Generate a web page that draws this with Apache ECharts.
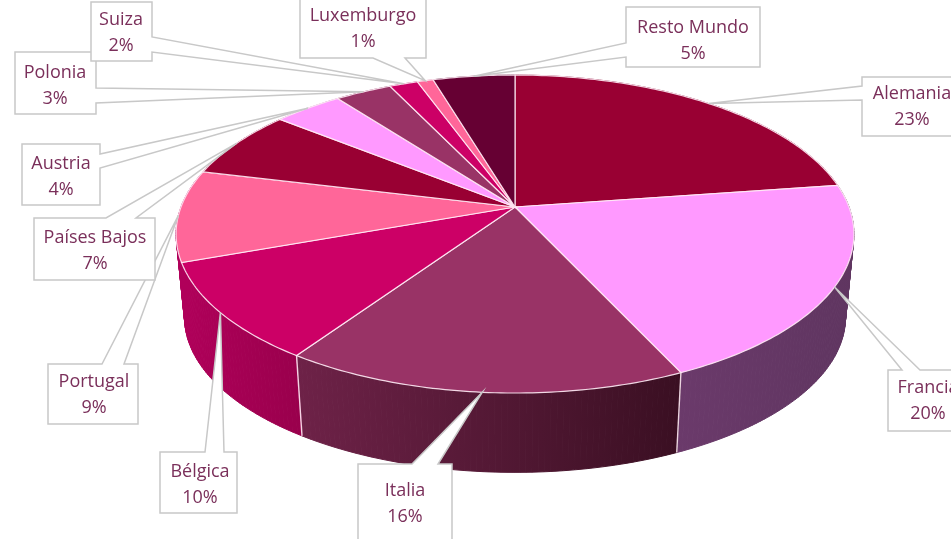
<!DOCTYPE html>
<html>
<head>
<meta charset="utf-8">
<style>html,body{margin:0;padding:0;background:#fff}#c{width:951px;height:539px}</style>
<script src="https://cdn.jsdelivr.net/npm/echarts@6/dist/echarts.min.js"></script>
</head>
<body>
<div id="c"></div>
<script>
// Data, clockwise from 12 o'clock (labels are the rounded shares)
const categories = ['Alemania','Francia','Italia','Bélgica','Portugal','Países Bajos','Austria','Polonia','Suiza','Luxemburgo','Resto Mundo'];
const values = [22.7,20.4,16.4,10.0,9.3,7.0,3.9,3.2,1.6,0.9,4.6];

// Styles
const topColors = ['#990033','#ff99ff','#993366','#cc0066','#ff6699','#990033','#ff99ff','#993366','#cc0066','#ff6699','#660033'];
const wallStops = [['#7a0028','#7a0028'],['#6b3a6b','#5f3560'],['#6e2248','#3a0f22'],['#b0005a','#99004c'],['#b0005a','#b0005a'],
                   ['#7a0028','#7a0028'],['#c07ac0','#c07ac0'],['#7a2850','#7a2850'],['#a00050','#a00050'],['#c05078','#c05078'],['#4d0026','#4d0026']];

// Layout of the callouts: box [x,y,w,h], tail side, tail base [from,to], text centre [x,y]
const boxes = [[862,77,110,59],[888,370,90,61],[358,464,94,80],[160,452,77,61],[48,364,90,60],[34,218,121,62],[22,144,78,61],[15,52,81,62],[91,2,61,59],[300,-6,126,64],[626,7,134,60]];
const sides = ['left','top','top','top','top','top','right','right','right','bottom','left'];
const tails = [[86,100],[902,920],[412,438],[205,224],[102,124],[106,136],[154,168],[88,103],[37,52],[373,405],[43,57]];
const textCentres = [[912,107],[928,401],[405,504],[200,485],[94,395],[95,251],[61,177],[55,86],[121,33],[363,29],[693,41]];

// Projection of the disc (perspective view of a tilted pie)
const apex = [515,207], A = 154.4, B = 334, C = 0.17, wallScale = 0.975, wallDrop = 84;
const total = values.reduce((a,b)=>a+b,0);
const cum = [0]; values.forEach((v,i)=>cum.push(cum[i]+v));
function proj(share, wall){
  const t = share/total*2*Math.PI, X = Math.sin(t), Y = -Math.cos(t), w = 1-C*Y;
  const s = wall ? wallScale : 1, d = wall ? wallDrop : 0;
  return [apex[0]+B*X/w*s, apex[1]+A*Y/w*s+d];
}
function arc(i, wall){
  const pts = [], n = Math.max(4, Math.ceil(values[i]*4));
  for(let k=0;k<=n;k++) pts.push(proj(cum[i]+values[i]*k/n, wall));
  return pts;
}
const edge = 'rgba(255,235,245,0.9)';
function renderWall(p){
  const i = p.dataIndex, top = arc(i,false), bot = arc(i,true);
  const xs = top.concat(bot).map(q=>q[0]), x0 = Math.min(...xs), x1 = Math.max(...xs);
  const grad = new echarts.graphic.LinearGradient(x0,0,x1,0,[{offset:0,color:wallStops[i][0]},{offset:1,color:wallStops[i][1]}],true);
  const children = [];
  for(let k=0;k<top.length-1;k++){
    children.push({type:'polygon',shape:{points:[top[k],top[k+1],bot[k+1],bot[k]]},style:{fill:grad,stroke:grad,lineWidth:1}});
  }
  return {type:'group',children};
}
function renderSeam(p){
  const i = p.dataIndex, a = proj(cum[i],false), b = proj(cum[i],true);
  if(a[1] < 300) return {type:'group',children:[]};
  return {type:'line',shape:{x1:a[0],y1:a[1],x2:b[0],y2:b[1]},style:{stroke:edge,lineWidth:1.4}};
}
function renderTop(p){
  const i = p.dataIndex;
  return {type:'polygon', shape:{points:[apex].concat(arc(i,false))},
    style:{fill:topColors[i],stroke:edge,lineWidth:1.2}};
}
function calloutPoints(i){
  const [x,y,w,h] = boxes[i], [a,b] = tails[i], tip = proj(cum[i]+values[i]/2,false);
  const r = x+w, d = y+h;
  switch(sides[i]){
    case 'top': return [[x,y],[a,y],tip,[b,y],[r,y],[r,d],[x,d]];
    case 'bottom': return [[x,y],[r,y],[r,d],[b,d],tip,[a,d],[x,d]];
    case 'right': return [[x,y],[r,y],[r,a],tip,[r,b],[r,d],[x,d]];
    default: return [[x,y],[r,y],[r,d],[x,d],[x,b],tip,[x,a]];
  }
}
function renderLabel(p){
  const i = p.dataIndex;
  return {type:'group',children:[
    {type:'polygon',shape:{points:calloutPoints(i)},style:{fill:'#fff',stroke:'#c8c8c8',lineWidth:1.5}},
    {type:'text',style:{text:categories[i]+'\n'+Math.round(values[i]/total*100)+'%',x:textCentres[i][0],y:textCentres[i][1],
      align:'center',verticalAlign:'middle',fontFamily:'"Open Sans"',fontSize:18,lineHeight:26,fill:'#7a2f5a'}}
  ]};
}
const rows = values.map((v,i)=>[i,v]);
const chart = echarts.init(document.getElementById('c'),null,{renderer:'canvas'});
const layer = (z,renderItem)=>({type:'custom',coordinateSystem:'none',silent:true,clip:false,z,data:rows,renderItem});
chart.setOption({
  animation:false,
  backgroundColor:'#fff',
  series:[layer(1,renderWall),layer(2,renderSeam),layer(3,renderTop),layer(4,renderLabel)]
});
</script>
</body>
</html>
